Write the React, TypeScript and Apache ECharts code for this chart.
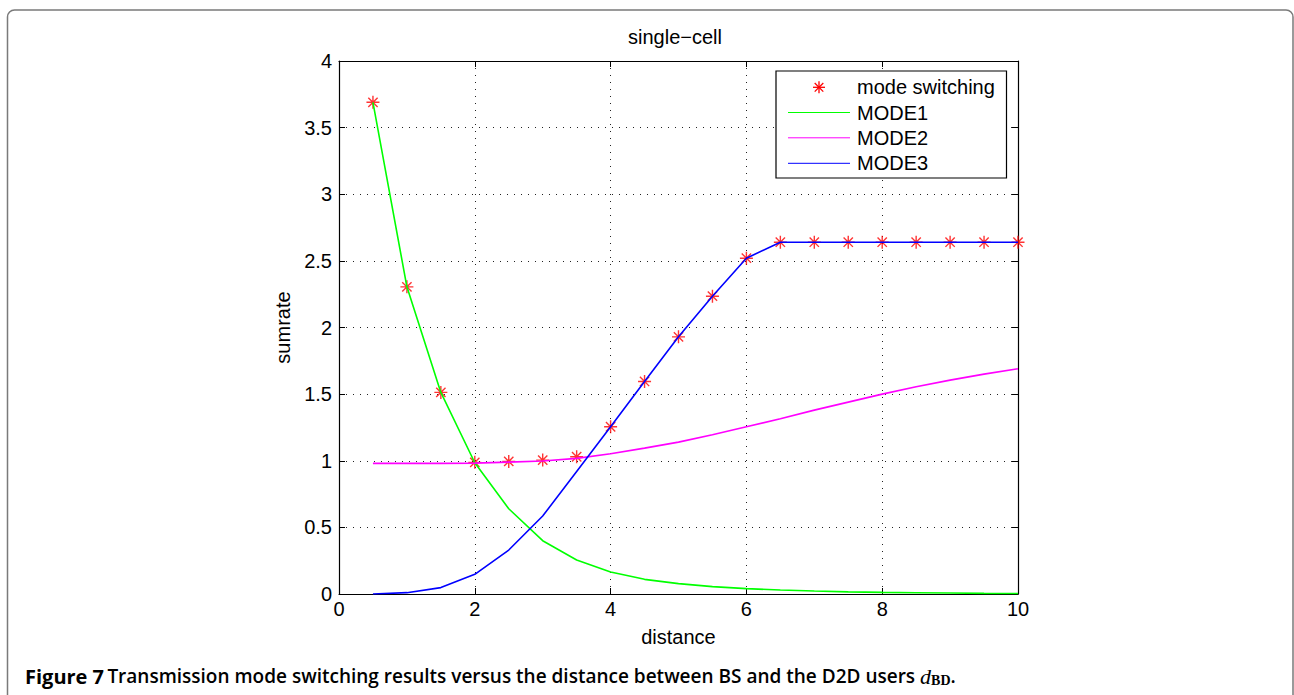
import React, { useEffect, useRef } from "react";
import * as echarts from "echarts";

const distance = [0.5, 1, 1.5, 2, 2.5, 3, 3.5, 4, 4.5, 5, 5.5, 6, 6.5, 7, 7.5, 8, 8.5, 9, 9.5, 10];
const modeSwitching = [3.69, 2.305, 1.513, 0.988, 0.995, 1.005, 1.03, 1.255, 1.595, 1.93, 2.235, 2.52, 2.64, 2.64, 2.64, 2.64, 2.64, 2.64, 2.64, 2.64];
const mode1 = [3.69, 2.305, 1.513, 0.985, 0.64, 0.4, 0.255, 0.165, 0.11, 0.078, 0.055, 0.04, 0.03, 0.022, 0.016, 0.012, 0.009, 0.007, 0.005, 0.004];
const mode2 = [0.98, 0.98, 0.98, 0.982, 0.99, 0.998, 1.018, 1.052, 1.095, 1.14, 1.195, 1.255, 1.315, 1.38, 1.44, 1.5, 1.555, 1.605, 1.65, 1.69];
const mode3 = [0, 0.01, 0.048, 0.148, 0.33, 0.585, 0.92, 1.255, 1.595, 1.93, 2.235, 2.52, 2.64, 2.64, 2.64, 2.64, 2.64, 2.64, 2.64, 2.64];

const legendNames = ["mode switching", "MODE1", "MODE2", "MODE3"];
const seriesColors = ["#ff0000", "#00ff00", "#ff00ff", "#0000ff"];
const titleText = "single\u2212cell";
const xName = "distance";
const yName = "sumrate";
const captionMain = "Transmission mode switching results versus the distance between BS and the D2D users ";

const FONT = "Liberation Sans, Arial, Helvetica, sans-serif";
const CAPFONT = "Open Sans, Noto Sans, sans-serif";
const SERIF = "Liberation Serif, DejaVu Serif, serif";
const STAR = "path://M0,-6L0,6M-6,0L6,0M-4.3,-4.3L4.3,4.3M-4.3,4.3L4.3,-4.3";

function pairs(ys: number[]) {
  return distance.map((x, i) => [x, ys[i]]);
}

export default function App() {
  const ref = useRef<HTMLDivElement>(null);
  useEffect(() => {
    document.body.style.margin = "0";
    const chart = echarts.init(ref.current!, null, { renderer: "svg" });
    const axisCommon = {
      axisLine: { show: true, onZero: false, lineStyle: { color: "#000", width: 1.2 } },
      axisTick: { show: true, inside: true, length: 6, lineStyle: { color: "#000", width: 1 } },
    };
    const gridDots = { show: true, lineStyle: { color: "#222", type: [1, 6] as any, width: 1 } };

    const legendX0 = 788, legendX1 = 850, legendTextX = 857;
    const legendYs = [87.3, 112.5, 137.8, 163.3];
    const starCx = 819, starCy = legendYs[0], sr = 6;
    const sd = 4.3;

    const legendGraphic: any[] = [
      { type: "rect", shape: { x: 776, y: 71, width: 230.5, height: 107 }, style: { fill: "#fff", stroke: "#000", lineWidth: 1.2 }, z: 100 },
      { type: "line", shape: { x1: starCx, y1: starCy - sr, x2: starCx, y2: starCy + sr }, style: { stroke: seriesColors[0], lineWidth: 1.3 }, z: 101 },
      { type: "line", shape: { x1: starCx - sr, y1: starCy, x2: starCx + sr, y2: starCy }, style: { stroke: seriesColors[0], lineWidth: 1.3 }, z: 101 },
      { type: "line", shape: { x1: starCx - sd, y1: starCy - sd, x2: starCx + sd, y2: starCy + sd }, style: { stroke: seriesColors[0], lineWidth: 1.3 }, z: 101 },
      { type: "line", shape: { x1: starCx - sd, y1: starCy + sd, x2: starCx + sd, y2: starCy - sd }, style: { stroke: seriesColors[0], lineWidth: 1.3 }, z: 101 },
    ];
    for (let i = 1; i < 4; i++) {
      legendGraphic.push({ type: "line", shape: { x1: legendX0, y1: legendYs[i], x2: legendX1, y2: legendYs[i] }, style: { stroke: seriesColors[i], lineWidth: 1 }, z: 101 });
    }
    for (let i = 0; i < 4; i++) {
      legendGraphic.push({ type: "text", x: legendTextX, y: legendYs[i], style: { text: legendNames[i], fontSize: 20, fontFamily: FONT, fill: "#000", verticalAlign: "middle", textAlign: "left" }, z: 101 });
    }

    chart.setOption({
      animation: false,
      backgroundColor: "#fff",
      title: {
        text: titleText,
        left: 628,
        top: 27,
        padding: 0,
        textStyle: { fontSize: 20, fontWeight: "normal", fontFamily: FONT, color: "#000" },
      },
      grid: { left: 339, right: 276, top: 61, bottom: 101, containLabel: false },
      xAxis: [
        {
          type: "value", min: 0, max: 10, interval: 2, position: "bottom",
          ...axisCommon,
          splitLine: gridDots,
          axisLabel: { fontSize: 20, fontFamily: FONT, color: "#000", margin: 5 },
          name: xName, nameLocation: "middle", nameGap: 33,
          nameTextStyle: { fontSize: 20, fontFamily: FONT, color: "#000" },
        },
        {
          type: "value", min: 0, max: 10, interval: 2, position: "top",
          ...axisCommon,
          splitLine: { show: false },
          axisLabel: { show: false },
        },
      ],
      yAxis: [
        {
          type: "value", min: 0, max: 4, interval: 0.5, position: "left",
          ...axisCommon,
          splitLine: gridDots,
          axisLabel: { fontSize: 20, fontFamily: FONT, color: "#000", margin: 7 },
          name: yName, nameLocation: "middle", nameGap: 44, nameRotate: 90,
          nameTextStyle: { fontSize: 20, fontFamily: FONT, color: "#000" },
        },
        {
          type: "value", min: 0, max: 4, interval: 0.5, position: "right",
          ...axisCommon,
          splitLine: { show: false },
          axisLabel: { show: false },
        },
      ],
      series: [
        {
          name: legendNames[0], type: "scatter", data: pairs(modeSwitching),
          symbol: STAR, symbolSize: 13,
          itemStyle: { color: "none", borderColor: seriesColors[0], borderWidth: 1.4 },
          z: 2,
        },
        {
          name: legendNames[1], type: "line", data: pairs(mode1), showSymbol: false, symbol: "none",
          lineStyle: { color: seriesColors[1], width: 1.6 }, z: 3,
        },
        {
          name: legendNames[2], type: "line", data: pairs(mode2), showSymbol: false, symbol: "none",
          lineStyle: { color: seriesColors[2], width: 1.6 }, z: 3,
        },
        {
          name: legendNames[3], type: "line", data: pairs(mode3), showSymbol: false, symbol: "none",
          lineStyle: { color: seriesColors[3], width: 1.6 }, z: 3,
        },
      ],
      graphic: [
        {
          type: "rect", shape: { x: 7.5, y: 10, width: 1285.5, height: 720, r: 7 },
          style: { fill: "none", stroke: "#7a7a7a", lineWidth: 1.5 }, z: -10, silent: true,
        },
        ...legendGraphic,
        {
          type: "text", x: 25, y: 676,
          style: {
            text: "{b|Figure 7} {s|" + captionMain + "}{d|d}{sub|BD}{s|.}",
            verticalAlign: "middle",
            rich: {
              b: { fontFamily: CAPFONT, fontWeight: "bold", fontSize: 20, fill: "#000", lineHeight: 26 },
              s: { fontFamily: CAPFONT, fontWeight: 600, fontSize: 19, fill: "#000", lineHeight: 26 },
              d: { fontFamily: SERIF, fontStyle: "italic", fontSize: 22, fill: "#000", lineHeight: 26 },
              sub: { fontFamily: SERIF, fontWeight: "bold", fontSize: 14, fill: "#000", lineHeight: 26, padding: [9, 0, 0, 0] },
            },
          },
          z: 50,
        },
      ],
    });
    return () => chart.dispose();
  }, []);
  return <div ref={ref} style={{ width: 1294, height: 695 }} />;
}
